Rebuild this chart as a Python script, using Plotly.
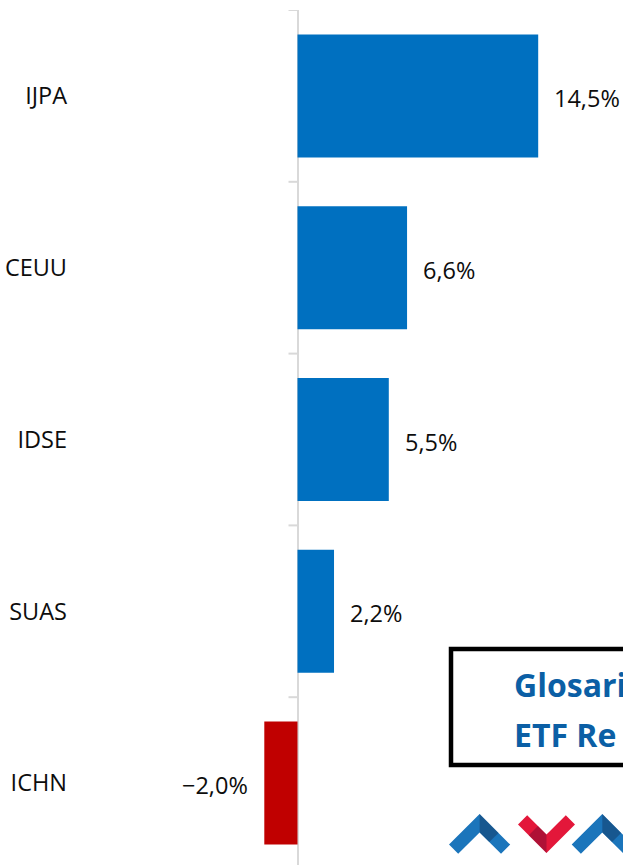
import math
import plotly.graph_objects as go

# ---------------- data ----------------
categories = ["IJPA", "CEUU", "IDSE", "SUAS", "ICHN"]
returns = [14.5, 6.6, 5.5, 2.2, -2.0]
value_labels = ["14,5%", "6,6%", "5,5%", "2,2%", "\u22122,0%"]
box_lines = ["Glosari", "ETF Re"]

# ---------------- layout constants ----------------
W, H = 623, 865
ML, MR, MT, MB = 80, 0, 10, 0
PW, PH = W - ML - MR, H - MT - MB
ZERO_PX = 297.5          # pixel x of zero
PX_PER_UNIT = 16.6       # pixels per percentage point
XMIN = -(ZERO_PX - ML) / PX_PER_UNIT
XMAX = (W - MR - ZERO_PX) / PX_PER_UNIT
BAND = 171.8
YSPAN = PH / BAND

POS = "#0070C0"
NEG = "#C00000"
AXIS_GRAY = "#D9D9D9"
TXT = "#0d0d0d"
FONT = "Open Sans"


def px(x):
    return (x - ML) / PW


def py(y):
    return 1 - (y - MT) / PH


colors = [POS if v >= 0 else NEG for v in returns]

fig = go.Figure(
    go.Bar(
        x=returns,
        y=categories,
        orientation="h",
        marker=dict(color=colors, line=dict(width=0)),
        width=0.716,
        hoverinfo="skip",
    )
)

annotations = []
for cat, v, lab in zip(categories, returns, value_labels):
    annotations.append(
        dict(
            x=v, y=cat, xref="x", yref="y",
            text=lab, showarrow=False,
            xanchor="left" if v >= 0 else "right",
            xshift=14 if v >= 0 else -14,
            yshift=-2,
            font=dict(family=FONT, size=23.5, color=TXT),
        )
    )

# text box lines
annotations.append(dict(x=px(512), y=py(684), xref="paper", yref="paper",
                        text="<b>%s</b>" % box_lines[0], showarrow=False,
                        xanchor="left", yanchor="middle",
                        font=dict(family=FONT, size=32, color="#0B5FA5")))
annotations.append(dict(x=px(512), y=py(734), xref="paper", yref="paper",
                        text="<b>%s</b>" % box_lines[1], showarrow=False,
                        xanchor="left", yanchor="middle",
                        font=dict(family=FONT, size=32, color="#0B5FA5")))

shapes = []
# category boundary tick marks on the zero axis
tick_len = 9 / PX_PER_UNIT
for i in range(len(categories) + 1):
    shapes.append(dict(type="line", xref="x", yref="y",
                       x0=-tick_len, x1=0, y0=i - 0.5, y1=i - 0.5,
                       line=dict(color=AXIS_GRAY, width=2), layer="below"))

# overlay text box
shapes.append(dict(type="rect", xref="paper", yref="paper",
                   x0=px(451), x1=px(700), y0=py(649), y1=py(765),
                   line=dict(color="black", width=4.5), fillcolor="white",
                   layer="above"))


def to_path(pts):
    return "M " + " L ".join("%.5f,%.5f" % (px(x), py(y)) for x, y in pts) + " Z"


def chevron(ax, ay, arm, h, up=True):
    a = h / math.sqrt(2)
    b = h * math.sqrt(2)
    s = 1 if up else -1
    pts = [(ax - arm - a, ay + s * (arm - a)), (ax, ay - s * b), (ax + arm + a, ay + s * (arm - a)),
           (ax + arm - a, ay + s * (arm + a)), (ax, ay + s * b), (ax - arm + a, ay + s * (arm + a))]
    return pts


def leg_shade(ax, ay, arm, h, up=True, right=True, frac=0.55):
    # darker band on one leg, from the apex part-way down
    a = h / math.sqrt(2)
    b = h * math.sqrt(2)
    s = 1 if up else -1
    d = 1 if right else -1
    L = arm * frac
    pts = [(ax, ay - s * b), (ax + d * (L + a), ay + s * (L - a)),
           (ax + d * (L - a), ay + s * (L + a)), (ax, ay + s * b)]
    return pts


LOGO_BLUE = "#1B75BB"
LOGO_RED = "#E3173A"
logo = [
    (479.6, 823.2, 26, 6.5, True, LOGO_BLUE, "rgba(20,50,90,0.45)", True),
    (546.5, 843.8, 23.9, 6.5, False, LOGO_RED, "rgba(110,10,50,0.45)", False),
    (602.3, 823.2, 26, 6.5, True, LOGO_BLUE, "rgba(20,50,90,0.45)", True),
]
for ax, ay, arm, h, up, c, shade, right in logo:
    shapes.append(dict(type="path", xref="paper", yref="paper",
                       path=to_path(chevron(ax, ay, arm, h, up)),
                       fillcolor=c, line=dict(width=0), layer="above"))
    shapes.append(dict(type="path", xref="paper", yref="paper",
                       path=to_path(leg_shade(ax, ay, arm, h, up, right)),
                       fillcolor=shade, line=dict(width=0), layer="above"))

fig.update_layout(
    width=W, height=H,
    margin=dict(l=ML, r=MR, t=MT, b=MB),
    paper_bgcolor="white", plot_bgcolor="white",
    showlegend=False,
    annotations=annotations,
    shapes=shapes,
    xaxis=dict(range=[XMIN, XMAX], showgrid=False, showticklabels=False,
               ticks="", showline=False, zeroline=True,
               zerolinecolor=AXIS_GRAY, zerolinewidth=2, fixedrange=True),
    yaxis=dict(categoryorder="array", categoryarray=categories,
               range=[-0.5 + YSPAN, -0.5], showgrid=False, zeroline=False,
               showline=False, ticks="", ticklabelstandoff=12,
               tickfont=dict(family=FONT, size=23.5, color=TXT), fixedrange=True),
)

fig.write_html(
    "out.html",
    config={"displayModeBar": False},
    post_script="document.body.style.margin='0';document.body.style.overflow='hidden';",
)
